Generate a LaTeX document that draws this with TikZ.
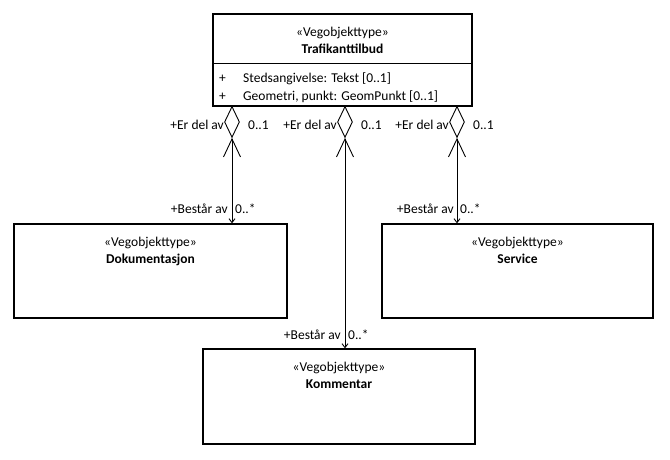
\documentclass[tikz,border=0pt]{standalone}
\usepackage{fontspec}
\setmainfont{Carlito}
\usetikzlibrary{positioning,shapes.geometric,arrows.meta}

\tikzstyle{klasse}=[draw,line width=1.3pt,rectangle,inner sep=0pt]
\tikzstyle{tekst}=[inner sep=0pt,anchor=base,font=\fontsize{13.5}{16}\selectfont]
\tikzstyle{navn}=[tekst,font=\fontsize{13.5}{16}\selectfont\bfseries]
\tikzstyle{attr}=[tekst,anchor=base west]
\tikzstyle{aggr}=[draw,diamond,fill=white,line width=0.9pt,minimum width=15pt,minimum height=31pt,inner sep=0pt]
\tikzstyle{assoc}=[line width=0.9pt,{Straight Barb[length=18pt,width=17pt,line width=0.9pt]}-{Straight Barb[length=4pt,width=6pt,line width=0.9pt]}]

\begin{document}
\begin{tikzpicture}[x=1pt,y=-1pt]
  \useasboundingbox (0,0) rectangle (670,459);

  % klasser
  \node (trafikk)[klasse,minimum width=259pt,minimum height=92pt] at (342.5,60) {};
  \node (doku)[klasse,minimum width=273pt,minimum height=94pt] at (150.5,271) {};
  \node (service)[klasse,minimum width=271pt,minimum height=94pt] at (517.5,271) {};
  \node (komm)[klasse,minimum width=272pt,minimum height=95pt] at (339,396.5) {};

  % tekster
  \node (trafikkSt)[tekst] at (342.5,36) {«Vegobjekttype»};
  \node (trafikkN)[navn] at (342.5,53) {Trafikanttilbud};
  \coordinate (skilleV) at (213,63);
  \coordinate (skilleH) at (472,63);
  \draw[line width=0.9pt] (skilleV) -- (skilleH);
  \node (pluss1)[attr] at (219,82.5) {+};
  \node (attr1)[attr] at (243,82.5) {Stedsangivelse: Tekst [0..1]};
  \node (pluss2)[attr] at (219,100.5) {+};
  \node (attr2)[attr] at (243,100.5) {Geometri, punkt: GeomPunkt [0..1]};

  \node (dokuSt)[tekst] at (150.5,246) {«Vegobjekttype»};
  \node (dokuN)[navn] at (150.5,263) {Dokumentasjon};
  \node (serviceSt)[tekst] at (517.5,246) {«Vegobjekttype»};
  \node (serviceN)[navn] at (517.5,263) {Service};
  \node (kommSt)[tekst] at (339,371) {«Vegobjekttype»};
  \node (kommN)[navn] at (339,388) {Kommentar};

  % aggregeringer
  \node (d1)[aggr,anchor=north] at (232,106) {};
  \node (d2)[aggr,anchor=north] at (345,106) {};
  \node (d3)[aggr,anchor=north] at (457,106) {};

  \draw[assoc] (d1.south) -- (d1.south |- doku.north);
  \draw[assoc] (d2.south) -- (d2.south |- komm.north);
  \draw[assoc] (d3.south) -- (d3.south |- service.north);

  % roller
  \node (erdel1)[tekst,anchor=base east] at (224,129.5) {+Er del av};
  \node (mult1)[tekst,anchor=base west] at (248,129.5) {0..1};
  \node (erdel2)[tekst,anchor=base east] at (337,129.5) {+Er del av};
  \node (mult2)[tekst,anchor=base west] at (361,129.5) {0..1};
  \node (erdel3)[tekst,anchor=base east] at (449,129.5) {+Er del av};
  \node (mult3)[tekst,anchor=base west] at (473,129.5) {0..1};

  \node (best1)[tekst,anchor=base east] at (228,213.5) {+Består av};
  \node (mult4)[tekst,anchor=base west] at (235,213.5) {0..*};
  \node (best2)[tekst,anchor=base east] at (341,339.5) {+Består av};
  \node (mult5)[tekst,anchor=base west] at (348,339.5) {0..*};
  \node (best3)[tekst,anchor=base east] at (454,213.5) {+Består av};
  \node (mult6)[tekst,anchor=base west] at (460,213.5) {0..*};
\end{tikzpicture}
\end{document}
